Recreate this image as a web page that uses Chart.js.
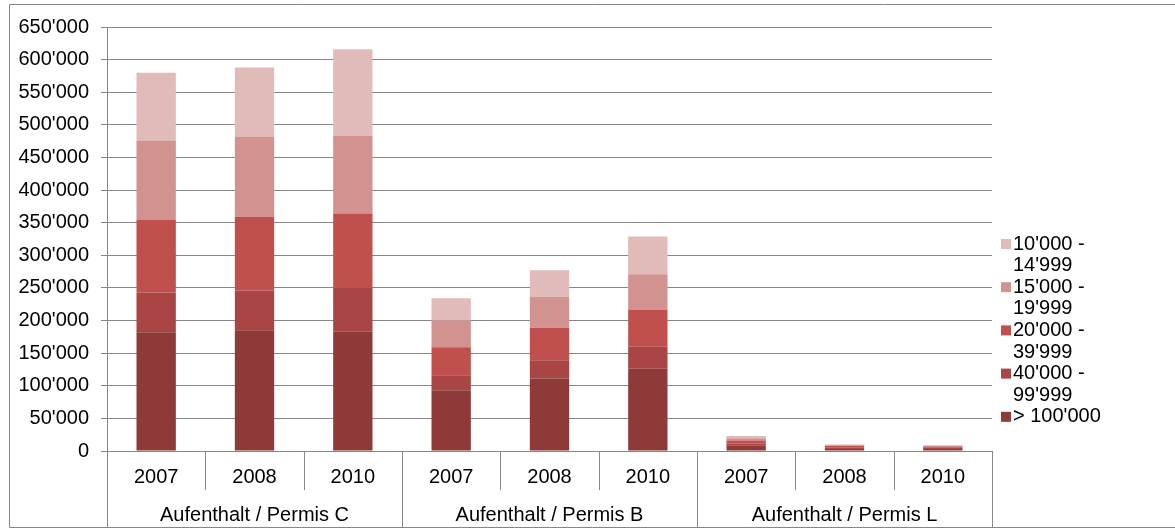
<!DOCTYPE html>
<html>
<head>
<meta charset="utf-8">
<script src="https://cdn.jsdelivr.net/npm/chart.js@4.4.0/dist/chart.umd.min.js"></script>
<style>
  html, body { margin: 0; padding: 0; background: #fff; }
  #wrap { width: 1175px; height: 530px; }
</style>
</head>
<body>
<div id="wrap"><canvas id="chart"></canvas></div>
<script>
// categories
const groups = ["Aufenthalt / Permis C", "Aufenthalt / Permis B", "Aufenthalt / Permis L"];
const years = ["2007", "2008", "2010"];

// series (bottom of the stack first)
const seriesNames = ["> 100'000", "40'000 - 99'999", "20'000 - 39'999", "15'000 - 19'999", "10'000 - 14'999"];
const over100k = [182000, 185000, 183000, 93000, 111000, 126000, 8000, 3000, 3000];
const from40k  = [61000, 61000, 67000, 23000, 28000, 34000, 3500, 2000, 2000];
const from20k  = [111000, 113000, 114000, 43000, 50000, 56000, 4500, 2500, 2000];
const from15k  = [122000, 123000, 119000, 41000, 47000, 55000, 3500, 1500, 1000];
const from10k  = [104000, 106000, 133000, 34000, 41000, 58000, 3500, 1000, 1000];

// y axis
const yMax = 650000;
const yStep = 50000;

const colors = ["#8e3a38", "#a94544", "#c0504d", "#d19290", "#e0bbba"];
const gridGray = "#868686";
const FONT = "Liberation Sans, Arial, sans-serif";
const FSIZE = 20;

const labels = [];
groups.forEach(() => years.forEach(y => labels.push(y)));

const values = [over100k, from40k, from20k, from15k, from10k];
const datasets = values.map((v, i) => ({
  label: seriesNames[i],
  data: v,
  backgroundColor: colors[i],
  borderWidth: 0,
  barPercentage: 0.4,
  categoryPercentage: 1
}));

function fmt(v) {
  return String(v).replace(/\B(?=(\d{3})+(?!\d))/g, "'");
}

// frame, two-level category axis and legend
const decor = {
  id: "decor",
  afterDraw(chart) {
    const ctx = chart.ctx;
    const x = chart.scales.x;
    const area = chart.chartArea;
    const n = labels.length;
    const w = (area.right - area.left) / n;
    const base = area.bottom;
    ctx.save();
    ctx.strokeStyle = gridGray;
    ctx.lineWidth = 1;
    // outer frame
    ctx.beginPath();
    ctx.moveTo(1180, 4.5);
    ctx.lineTo(9.5, 4.5);
    ctx.lineTo(9.5, 527.5);
    ctx.lineTo(1180, 527.5);
    ctx.stroke();
    // separators
    for (let k = 0; k <= n; k++) {
      const px = Math.round(area.left + k * w) + 0.5;
      ctx.beginPath();
      ctx.moveTo(px, base);
      ctx.lineTo(px, k % years.length === 0 ? 527.5 : base + 39);
      ctx.stroke();
    }
    ctx.fillStyle = "#000";
    ctx.font = FSIZE + "px " + FONT;
    ctx.textAlign = "center";
    ctx.textBaseline = "middle";
    labels.forEach((l, i) => ctx.fillText(l, x.getPixelForValue(i), base + 26));
    groups.forEach((g, gi) => {
      const c = (x.getPixelForValue(gi * 3) + x.getPixelForValue(gi * 3 + 2)) / 2;
      ctx.fillText(g, c, base + 64);
    });
    // legend, top item = top of the stack
    ctx.textAlign = "left";
    let ly = 244;
    for (let i = datasets.length - 1; i >= 0; i--) {
      const name = seriesNames[i];
      const parts = name.indexOf(" - ") > 0 ? [name.split(" - ")[0] + " -", name.split(" - ")[1]] : [name];
      ctx.fillStyle = colors[i];
      ctx.fillRect(1001, ly - 5, 10, 10);
      ctx.fillStyle = "#000";
      parts.forEach((p, j) => ctx.fillText(p, 1013, ly + j * 21.6));
      ly += parts.length * 21.6;
    }
    ctx.restore();
  }
};

new Chart(document.getElementById("chart"), {
  type: "bar",
  data: { labels: labels, datasets: datasets },
  options: {
    responsive: true,
    maintainAspectRatio: false,
    animation: false,
    layout: { padding: { left: 10, top: 27, right: 183, bottom: 3 } },
    plugins: { legend: { display: false }, tooltip: { enabled: false } },
    scales: {
      x: {
        stacked: true,
        grid: { display: false },
        border: { display: true, color: gridGray, width: 1 },
        ticks: { display: false },
        afterFit(s) { s.height = 76; }
      },
      y: {
        stacked: true,
        min: 0,
        max: yMax,
        grid: { color: gridGray, lineWidth: 1, tickLength: 6, drawTicks: true },
        border: { display: true, color: gridGray, width: 1 },
        ticks: {
          stepSize: yStep,
          padding: 12,
          color: "#000",
          font: { family: FONT, size: FSIZE },
          callback: v => fmt(v)
        },
        afterFit(s) { s.width = 97; }
      }
    }
  },
  plugins: [decor]
});
</script>
</body>
</html>
